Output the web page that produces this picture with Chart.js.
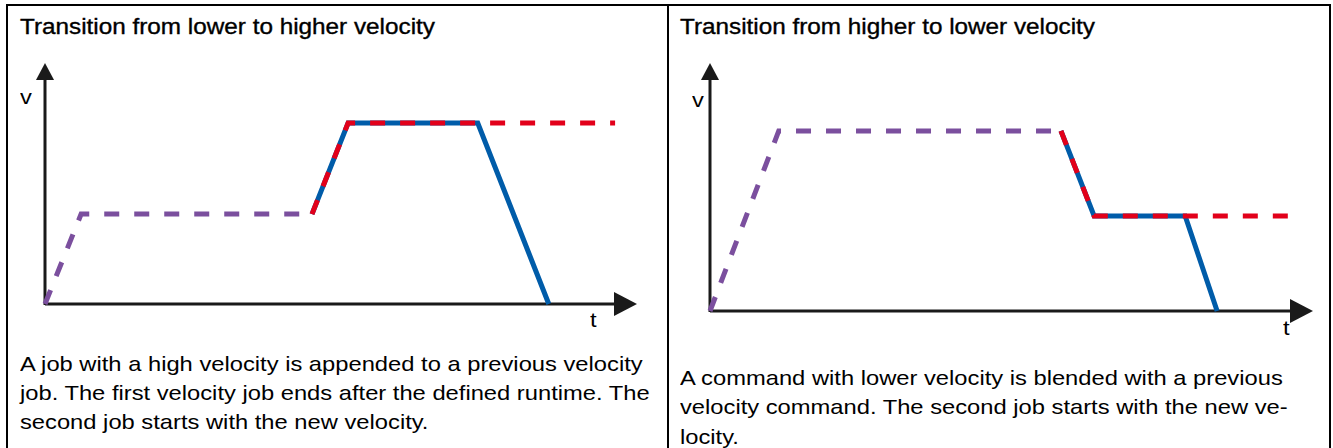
<!DOCTYPE html>
<html>
<head>
<meta charset="utf-8">
<script src="https://cdn.jsdelivr.net/npm/chart.js@4.4.1/dist/chart.umd.min.js"></script>
<style>
body{margin:0;background:#fff;width:1333px;height:448px;overflow:hidden;position:relative;font-family:"Liberation Sans",Arial,sans-serif;color:#000}
.ln{position:absolute;background:#000}
.tx{position:absolute;white-space:nowrap;font-size:21px;line-height:22px;transform-origin:0 50%;transform:scaleX(1.13)}
.hd{-webkit-text-stroke:0.35px #000}
canvas{position:absolute}
</style>
</head>
<body>
<div class="ln" style="left:6px;top:4px;width:1325px;height:2px"></div>
<div class="ln" style="left:6px;top:4px;width:2px;height:444px"></div>
<div class="ln" style="left:667px;top:4px;width:2px;height:444px"></div>
<div class="ln" style="left:1329px;top:4px;width:2px;height:444px"></div>

<div class="tx hd" style="left:20px;top:16px;font-size:21.5px">Transition from lower to higher velocity</div>
<div class="tx hd" style="left:680px;top:16px;font-size:21.5px">Transition from higher to lower velocity</div>

<div class="tx" style="left:20px;top:86px">v</div>
<div class="tx" style="left:590px;top:309px">t</div>
<div class="tx" style="left:692px;top:89px">v</div>
<div class="tx" style="left:1283px;top:317px">t</div>

<div class="tx" style="left:20px;top:353px">A job with a high velocity is appended to a previous velocity</div>
<div class="tx" style="left:20px;top:382px">job. The first velocity job ends after the defined runtime. The</div>
<div class="tx" style="left:20px;top:411px">second job starts with the new velocity.</div>

<div class="tx" style="left:680px;top:367px">A command with lower velocity is blended with a previous</div>
<div class="tx" style="left:680px;top:396px">velocity command. The second job starts with the new ve-</div>
<div class="tx" style="left:680px;top:426px">locity.</div>

<canvas id="leftChart" width="650" height="290" style="left:8px;top:50px"></canvas>
<canvas id="rightChart" width="654" height="296" style="left:672px;top:50px"></canvas>

<script>
// left panel: lower -> higher velocity
const leftPrevT = [0, 0.61, 4.51];
const leftPrevV = [0, 3.73, 3.73];
const leftNewT = [4.51, 5.12, 9.63];
const leftNewV = [3.73, 7.51, 7.51];
const leftActT = [4.51, 5.12, 7.31, 8.51];
const leftActV = [3.73, 7.51, 7.51, 0];

// right panel: higher -> lower velocity
const rightPrevT = [0, 1.14, 5.82];
const rightPrevV = [0, 7.26, 7.26];
const rightNewT = [5.82, 6.37, 9.64];
const rightNewV = [7.26, 3.83, 3.83];
const rightActT = [5.82, 6.37, 7.88, 8.41];
const rightActV = [7.26, 3.83, 3.83, 0];

const PURPLE = '#7b4f9e';
const RED = '#e2001a';
const BLUE = '#005ca9';

function pts(t, v){
    return t.map((tt, i) => ({x: tt, y: v[i]}));
}

// axis lines with arrow heads, drawn from the scales
const axisArrows = {
    id: 'axisArrows',
    beforeDatasetsDraw(chart){
        const {ctx, scales: {x, y}} = chart;
        const x0 = x.getPixelForValue(0);
        const y0 = y.getPixelForValue(0);
        const xEnd = x.getPixelForValue(x.max);
        const yEnd = y.getPixelForValue(y.max);
        ctx.save();
        ctx.strokeStyle = '#1a1a1a';
        ctx.fillStyle = '#1a1a1a';
        ctx.lineWidth = 3;
        ctx.beginPath();
        ctx.moveTo(x0, y0);
        ctx.lineTo(xEnd - 20, y0);
        ctx.moveTo(x0, y0 + 1);
        ctx.lineTo(x0, yEnd + 14);
        ctx.stroke();
        ctx.beginPath();
        ctx.moveTo(xEnd, y0);
        ctx.lineTo(xEnd - 23, y0 - 12);
        ctx.lineTo(xEnd - 23, y0 + 12);
        ctx.closePath();
        ctx.fill();
        ctx.beginPath();
        ctx.moveTo(x0, yEnd);
        ctx.lineTo(x0 - 9, yEnd + 17);
        ctx.lineTo(x0 + 9, yEnd + 17);
        ctx.closePath();
        ctx.fill();
        ctx.restore();
    }
};

function makeChart(id, pad, prev, next, act){
    const ctx = document.getElementById(id).getContext('2d');
    return new Chart(ctx, {
        type: 'scatter',
        data: {
            datasets: [
                {data: next, borderColor: RED, borderDash: [15, 15], order: 0},
                {data: act, borderColor: BLUE, order: 1},
                {data: prev, borderColor: PURPLE, borderDash: [15, 15], order: 2}
            ]
        },
        options: {
            responsive: false,
            animation: false,
            devicePixelRatio: 1,
            layout: {padding: pad},
            datasets: {
                scatter: {
                    showLine: true,
                    borderWidth: 5,
                    borderCapStyle: 'butt',
                    borderJoinStyle: 'miter',
                    pointRadius: 0,
                    clip: false
                }
            },
            scales: {
                x: {type: 'linear', min: 0, max: 10, display: false},
                y: {type: 'linear', min: 0, max: 10, display: false}
            },
            plugins: {legend: {display: false}, tooltip: {enabled: false}}
        },
        plugins: [axisArrows]
    });
}

makeChart('leftChart', {left: 37, top: 13, right: 21, bottom: 36},
    pts(leftPrevT, leftPrevV), pts(leftNewT, leftNewV), pts(leftActT, leftActV));
makeChart('rightChart', {left: 38, top: 13, right: 13, bottom: 35},
    pts(rightPrevT, rightPrevV), pts(rightNewT, rightNewV), pts(rightActT, rightActV));
</script>
</body>
</html>
